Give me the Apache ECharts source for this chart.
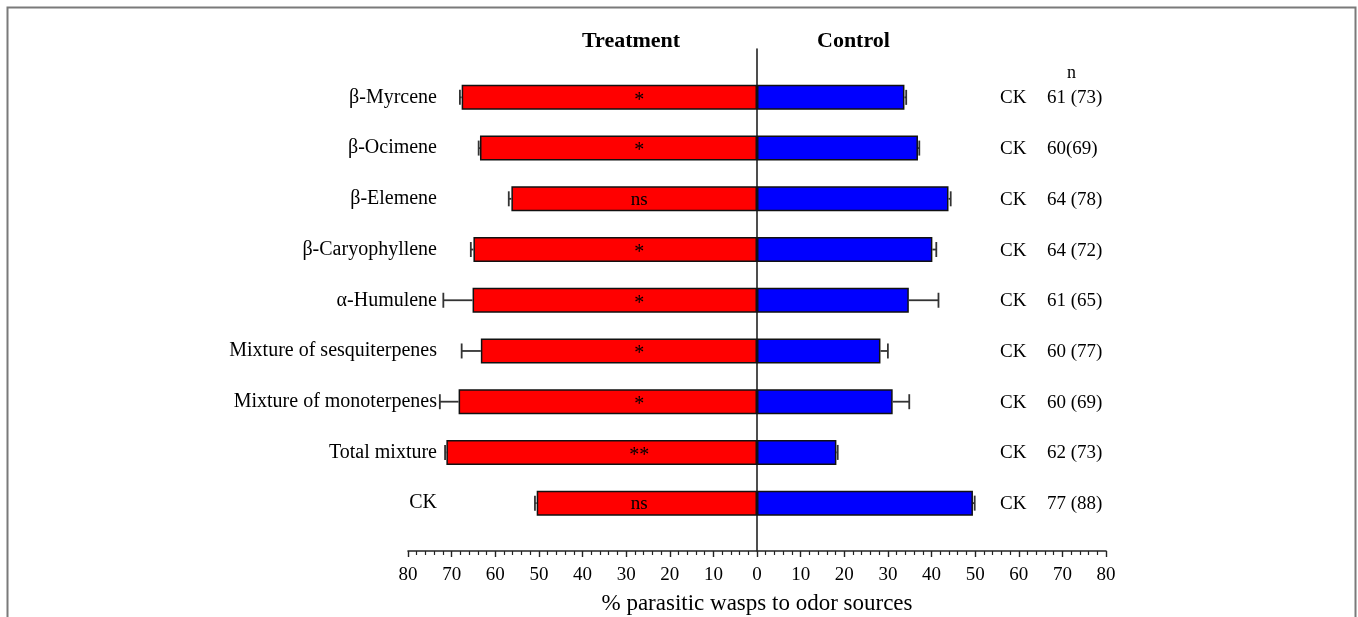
<!DOCTYPE html>
<html>
<head>
<meta charset="utf-8">
<title>Parasitic wasp olfactometer responses</title>
<script src="https://cdn.jsdelivr.net/npm/echarts@6/dist/echarts.min.js"></script>
<style>
  html, body { margin: 0; padding: 0; background: #ffffff; }
  #chart { width: 1358px; height: 617px; }
</style>
</head>
<body>
<div id="chart"></div>
<script>
// Odor sources tested (top to bottom)
const CATEGORIES = [
  'β-Myrcene', 'β-Ocimene', 'β-Elemene', 'β-Caryophyllene', 'α-Humulene',
  'Mixture of sesquiterpenes', 'Mixture of monoterpenes', 'Total mixture', 'CK'
];
// % of wasps choosing the treatment arm, with SE
const TREATMENT = [67.7, 63.5, 56.3, 65.0, 65.2, 63.3, 68.4, 71.2, 50.5];
const TREATMENT_ERR = [0.4, 0.3, 0.6, 0.6, 6.7, 4.4, 4.3, 0.3, 0.4];
// % of wasps choosing the control arm, with SE
const CONTROL = [33.8, 36.9, 43.9, 40.2, 34.8, 28.3, 31.1, 18.2, 49.5];
const CONTROL_ERR = [0.4, 0.3, 0.5, 0.9, 6.8, 1.7, 3.8, 0.3, 0.4];
// Significance of each comparison
const SIGNIF = ['*', '*', 'ns', '*', '*', '*', '*', '**', 'ns'];
// Control arm name and number of responding (tested) wasps
const CONTROL_NAME = 'CK';
const N_LABELS = ['61 (73)', '60(69)', '64 (78)', '64 (72)', '61 (65)', '60 (77)', '60 (69)', '62 (73)', '77 (88)'];
// Axis range and ticks
const X_MIN = -80, X_MAX = 80, X_STEP = 10;
const SIG_X = -27;

const FONT = 'Liberation Serif, Times New Roman, serif';

const chart = echarts.init(document.getElementById('chart'), null, { renderer: 'canvas' });

// Error bar: horizontal whisker from bar end outward, with a cap
function errorBarRender(params, api) {
  const cat = api.value(0);
  const p0 = api.coord([api.value(1), cat]);
  const p1 = api.coord([api.value(2), cat]);
  const capHalf = 7.5;
  const style = { stroke: '#333333', lineWidth: 1.8, fill: null };
  return {
    type: 'group',
    children: [
      { type: 'line', shape: { x1: p0[0], y1: p0[1], x2: p1[0], y2: p1[1] }, style: style },
      { type: 'line', shape: { x1: p1[0], y1: p1[1] - capHalf, x2: p1[0], y2: p1[1] + capHalf }, style: style }
    ]
  };
}

const treatErrData = TREATMENT.map((v, i) => [i, -v, -(v + TREATMENT_ERR[i])]);
const controlErrData = CONTROL.map((v, i) => [i, v, v + CONTROL_ERR[i]]);
const sigData = SIGNIF.map((s, i) => [i, SIG_X, s]);

const option = {
  backgroundColor: '#ffffff',
  animation: false,
  textStyle: { fontFamily: FONT },
  graphic: [
    {
      type: 'rect',
      shape: { x: 7.5, y: 7.5, width: 1348, height: 700 },
      style: { fill: null, stroke: '#7a7a7a', lineWidth: 2 },
      silent: true
    }
  ],
  title: [
    { text: 'Treatment', left: 577, top: 25, textStyle: { fontFamily: FONT, fontSize: 22, fontWeight: 'bold', color: '#000' } },
    { text: 'Control', left: 812, top: 25, textStyle: { fontFamily: FONT, fontSize: 22, fontWeight: 'bold', color: '#000' } },
    { text: 'n', left: 1062, top: 59, textStyle: { fontFamily: FONT, fontSize: 18, fontWeight: 'normal', color: '#000' } }
  ],
  grid: [
    { left: 408, right: 252, top: 72, height: 456.5, outerBoundsMode: 'none', containLabel: false },
    { left: 408, right: 252, top: 49, bottom: 66, outerBoundsMode: 'none', containLabel: false }
  ],
  xAxis: [
    { gridIndex: 0, type: 'value', min: X_MIN, max: X_MAX, interval: X_STEP, show: false },
    {
      gridIndex: 1, type: 'value', min: X_MIN, max: X_MAX, interval: X_STEP,
      position: 'bottom',
      axisLine: { show: true, onZero: false, lineStyle: { color: '#222', width: 1.6 } },
      axisTick: { show: true, inside: false, length: 6, lineStyle: { color: '#222', width: 1.4 } },
      minorTick: { show: true, splitNumber: 5, length: 4, lineStyle: { color: '#222', width: 1.2 } },
      splitLine: { show: false },
      axisLabel: {
        margin: 15, fontFamily: FONT, fontSize: 19, color: '#000',
        formatter: v => String(Math.abs(v))
      },
      name: '% parasitic wasps to odor sources',
      nameLocation: 'middle',
      nameGap: 41,
      nameTextStyle: { fontFamily: FONT, fontSize: 23, color: '#000' }
    }
  ],
  yAxis: [
    {
      gridIndex: 0, type: 'category', data: CATEGORIES, inverse: true,
      position: 'left',
      axisLine: { show: false }, axisTick: { show: false }, splitLine: { show: false },
      axisLabel: {
        margin: -29, fontFamily: FONT, fontSize: 20, color: '#000', align: 'right',
        padding: [8, 0, 0, 0]
      }
    },
    {
      gridIndex: 0, type: 'category', data: N_LABELS, inverse: true,
      position: 'right',
      axisLine: { show: false }, axisTick: { show: false }, splitLine: { show: false },
      axisLabel: {
        margin: -106, align: 'left', fontFamily: FONT, fontSize: 19, color: '#000',
        padding: [2, 0, 0, 0],
        formatter: v => '{ck|' + CONTROL_NAME + '}{n|' + v + '}',
        rich: {
          ck: { width: 47, fontFamily: FONT, fontSize: 19, color: '#000' },
          n: { fontFamily: FONT, fontSize: 19, color: '#000' }
        }
      }
    },
    {
      gridIndex: 1, type: 'value', min: 0, max: 1,
      axisLine: { show: true, onZero: true, lineStyle: { color: '#222', width: 1.6 } },
      axisTick: { show: false }, axisLabel: { show: false }, splitLine: { show: false }
    }
  ],
  series: [
    {
      name: 'Treatment', type: 'bar', xAxisIndex: 0, yAxisIndex: 0,
      data: TREATMENT.map(v => -v),
      barWidth: 25, barGap: '-100%',
      itemStyle: { color: '#ff0000', borderColor: '#111', borderWidth: 1.5 },
      z: 2
    },
    {
      name: 'Control', type: 'bar', xAxisIndex: 0, yAxisIndex: 0,
      data: CONTROL,
      barWidth: 25, barGap: '-100%',
      itemStyle: { color: '#0000ff', borderColor: '#111', borderWidth: 1.5 },
      z: 2
    },
    {
      type: 'custom', xAxisIndex: 0, yAxisIndex: 0,
      data: treatErrData, encode: { y: 0, x: [1, 2] },
      renderItem: errorBarRender, z: 3
    },
    {
      type: 'custom', xAxisIndex: 0, yAxisIndex: 0,
      data: controlErrData, encode: { y: 0, x: [1, 2] },
      renderItem: errorBarRender, z: 3
    },
    {
      type: 'custom', xAxisIndex: 0, yAxisIndex: 0,
      data: sigData, encode: { y: 0, x: 1 },
      renderItem: function (params, api) {
        const p = api.coord([api.value(1), api.value(0)]);
        const txt = SIGNIF[params.dataIndex];
        const isStar = txt.indexOf('*') >= 0;
        return {
          type: 'text',
          x: p[0], y: p[1] + (isStar ? 3 : 1),
          style: {
            text: txt, fontFamily: FONT, fontSize: isStar ? 20 : 19, fill: '#000',
            align: 'center', verticalAlign: 'middle'
          }
        };
      },
      z: 4
    }
  ]
};

chart.setOption(option);
</script>
</body>
</html>
